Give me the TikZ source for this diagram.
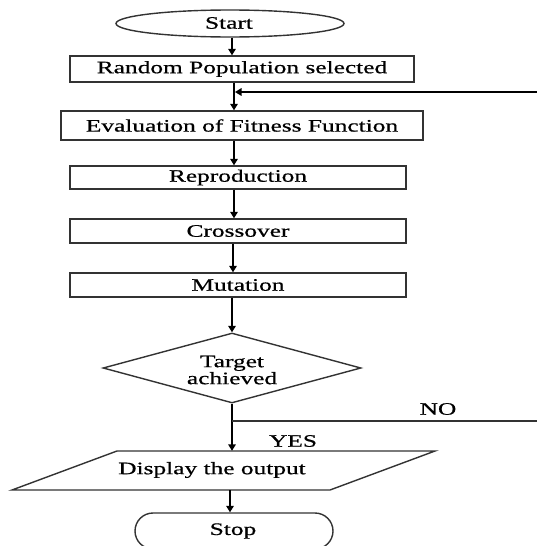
\documentclass[tikz,border=0pt]{standalone}
\usepackage{fontspec}
\setmainfont{Liberation Serif}[FakeStretch=1.45,FakeBold=0.6]
\usetikzlibrary{arrows.meta,shapes.geometric,shapes.misc}
\tikzset{
  box/.style={draw=black!80, line width=1.4pt, rectangle, inner sep=0pt},
  arr/.style={draw=black, line width=1.8pt, -{Triangle[length=6.5pt,width=7.5pt]}},
  plain/.style={draw=black!80, line width=1.4pt},
  lbl/.style={inner sep=0pt, font=\fontsize{17.5}{17}\selectfont}
}
\begin{document}
\begin{tikzpicture}[x=1pt,y=-1pt, every node/.style={font=\fontsize{17.5}{17}\selectfont}]
\useasboundingbox (0,0) rectangle (537,546);
\fill[white] (0,0) rectangle (537,546);
% nodes
\node[box, ellipse, minimum width=228pt, minimum height=27pt] (start) at (230,23.5) {};
\node[lbl] at (229,23) {Start};
\node[box, minimum width=344pt, minimum height=26pt] (rp) at (242,69) {Random Population selected};
\node[box, minimum width=362pt, minimum height=29pt] (eval) at (242,125.5) {Evaluation of Fitness Function};
\node[box, minimum width=336pt, minimum height=23pt] (repro) at (238,177.5) {Reproduction};
\node[box, minimum width=336pt, minimum height=24pt] (cross) at (238,231) {Crossover};
\node[box, minimum width=336pt, minimum height=24pt] (mut) at (238,285) {Mutation};
\node[box, diamond, minimum width=258pt, minimum height=70pt, align=center] (dec) at (232,368) {};
\node[lbl, align=center] at (232,370) {Target\\achieved};
% parallelogram
\node[inner sep=0pt, minimum width=318pt, minimum height=39pt] (disp) at (223.5,470.5) {};
\draw[plain] (117,451) -- (435,451) -- (330,490) -- (12,490) -- cycle;
\node[lbl] at (212,470) {Display the output};
\node[box, rounded rectangle, minimum width=198pt, minimum height=36pt] (stop) at (234,531) {};
\node[lbl] at (233,531) {Stop};
% coordinates
\coordinate (fbstart) at (537,92);
\coordinate (fbend) at (235,92);
\coordinate (nojoin) at (232,421);
\coordinate (noend) at (537,421);
% connectors
\draw[arr] (start.south -| 232,0) -- (rp.north -| 232,0);
\draw[arr] (rp.south -| 234,0) -- (eval.north -| 234,0);
\draw[arr] (fbstart) -- (fbend);
\draw[arr] (eval.south -| 234,0) -- (repro.north -| 234,0);
\draw[arr] (repro.south -| 234,0) -- (cross.north -| 234,0);
\draw[arr] (cross.south -| 233,0) -- (mut.north -| 233,0);
\draw[arr] (mut.south -| 232,0) -- (dec.north);
\draw[arr] (dec.south) -- (disp.north -| 232,0);
\draw[plain] (nojoin) -- (noend);
\draw[arr] (disp.south -| 230,0) -- (stop.north -| 230,0);
% labels
\node[lbl] at (438,409) {NO};
\node[lbl] at (293,441) {YES};
\end{tikzpicture}
\end{document}
